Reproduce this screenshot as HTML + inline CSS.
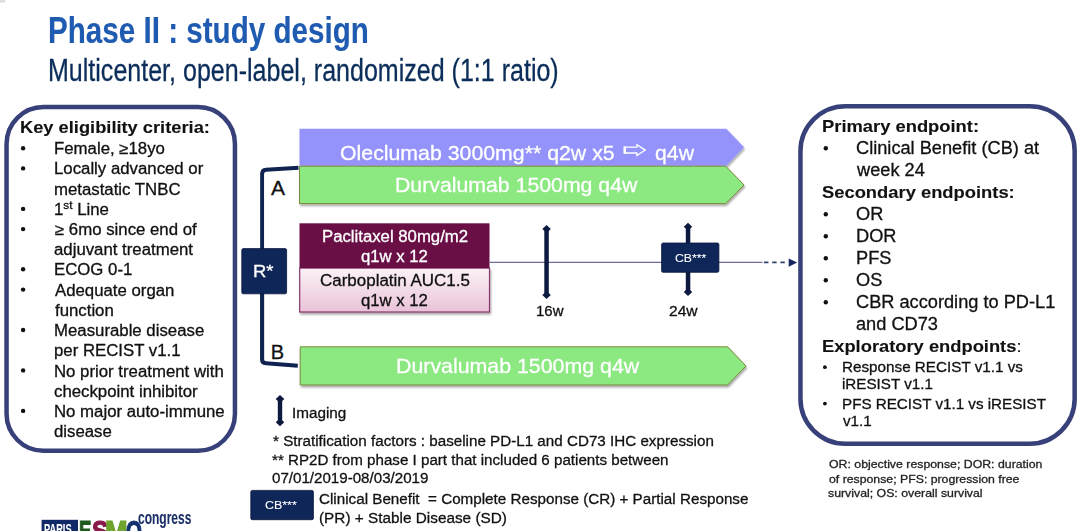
<!DOCTYPE html>
<html><head><meta charset="utf-8"><style>
html,body{margin:0;padding:0;background:#fff;}
body{width:1080px;height:531px;position:relative;overflow:hidden;font-family:"Liberation Sans", sans-serif;}
.t{position:absolute;white-space:pre;line-height:1;transform-origin:0 0;-webkit-text-stroke:0.3px currentColor;}
.b{-webkit-text-stroke:0.12px currentColor;}
sup{font-size:70%;vertical-align:0;position:relative;top:-0.5em;}
</style></head><body>
<svg width="1080" height="531" viewBox="0 0 1080 531" style="position:absolute;left:0;top:0">
<defs>
<linearGradient id="pink" x1="0" y1="0" x2="0" y2="1"><stop offset="0" stop-color="#fbf2f7"/><stop offset="1" stop-color="#e9c3d8"/></linearGradient>
<filter id="sh" x="-5%" y="-20%" width="110%" height="150%"><feGaussianBlur in="SourceAlpha" stdDeviation="1.2"/><feOffset dx="1" dy="2"/><feComponentTransfer><feFuncA type="linear" slope="0.35"/></feComponentTransfer><feMerge><feMergeNode/><feMergeNode in="SourceGraphic"/></feMerge></filter>
</defs>
<rect x="0" y="0" width="5.3" height="2.6" fill="#dedede"/>
<!-- boxes -->
<rect x="6.55" y="106.95" width="228.4" height="343.9" rx="37" ry="37" fill="none" stroke="#374079" stroke-width="4.5"/>
<rect x="800.45" y="106.25" width="274.2" height="337.6" rx="45" ry="45" fill="none" stroke="#374079" stroke-width="4.5"/>
<!-- purple arrow -->
<polygon points="299.5,128.7 726.3,128.7 744,147.2 726.3,165.8 299.5,165.8" fill="#9393fb" filter="url(#sh)"/>
<!-- green A -->
<polygon points="299.5,166.2 725.7,166.2 744,185 725.7,203.6 299.5,203.6" fill="#8ce880" stroke="#7a8a3a" stroke-width="1" filter="url(#sh)"/>
<!-- green B -->
<polygon points="300.2,346.8 727.6,346.8 746,366 727.6,385 300.2,385" fill="#8ce880" stroke="#7a8a3a" stroke-width="1" filter="url(#sh)"/>
<!-- arrow symbol in purple -->
<path d="M624.4,147.2 L636.9,147.2 L636.9,144.6 L645.3,150.1 L636.9,155.6 L636.9,153 L624.4,153 Z" fill="none" stroke="#fff" stroke-width="1.3"/>
<rect x="623.6" y="146.6" width="2.4" height="7" fill="#fff"/>
<!-- bracket -->
<path d="M298.5,167.8 L266,169.7 Q262.1,170 262.1,174 L262.1,249" fill="none" stroke="#0f2250" stroke-width="3.9"/>
<path d="M262.1,293 L262.1,359.5 Q262.1,363 266,363.3 L297.8,365.7" fill="none" stroke="#0f2250" stroke-width="4.1"/>
<!-- R box -->
<rect x="241.8" y="248.6" width="44.8" height="45.2" rx="1.5" fill="#0f2659" stroke="#0a173f" stroke-width="0.8"/>
<!-- timeline -->
<line x1="489.7" y1="262.3" x2="762.5" y2="262.3" stroke="#6d6d9c" stroke-width="1.3"/>
<line x1="764" y1="262.4" x2="785" y2="262.4" stroke="#33406f" stroke-width="1.6" stroke-dasharray="4.4 3.8"/>
<polygon points="788.7,258.5 797.2,262.6 788.7,266.7" fill="#18275f"/>
<!-- drug boxes -->
<rect x="299.7" y="268" width="189.8" height="44" fill="url(#pink)" stroke="#86386a" stroke-width="1.2" filter="url(#sh)"/>
<rect x="299.5" y="223.3" width="190" height="44.9" fill="#690f46"/>
<!-- 16w arrow -->
<g fill="#0d1a40">
<rect x="544.3" y="229" width="4.5" height="66"/>
<polygon points="546.55,225 550.8,229 546.55,233 542.3,229"/>
<polygon points="546.55,299 550.8,295 546.55,291 542.3,295"/>
<!-- 24w arrows -->
<rect x="685.8" y="226.5" width="4.5" height="17"/>
<polygon points="688,222.8 692.2,226.8 688,230.8 683.8,226.8"/>
<rect x="685.8" y="272" width="4.5" height="20"/>
<polygon points="688,296 692.2,292 688,288 683.8,292"/>
<!-- imaging arrow -->
<rect x="277.8" y="399" width="4.4" height="23"/>
<polygon points="280,395 284.3,399 280,403 275.7,399"/>
<polygon points="280,426.2 284.3,422.2 280,418.2 275.7,422.2"/>
</g>
<!-- CB box -->
<rect x="661.6" y="243" width="57.3" height="29.3" rx="1.5" fill="#0f2659" stroke="#0a173f" stroke-width="0.8"/>
<rect x="250.8" y="490.4" width="62.6" height="29.3" rx="1.5" fill="#0f2659" stroke="#0a173f" stroke-width="0.8"/>
<!-- bullets -->
<g fill="#111">
<circle cx="23.1" cy="148.2" r="2.2"/>
<circle cx="23.1" cy="168.4" r="2.2"/>
<circle cx="23.1" cy="208.9" r="2.2"/>
<circle cx="23.1" cy="229.1" r="2.2"/>
<circle cx="23.1" cy="269.3" r="2.2"/>
<circle cx="23.1" cy="289.6" r="2.2"/>
<circle cx="23.1" cy="330.0" r="2.2"/>
<circle cx="23.1" cy="370.4" r="2.2"/>
<circle cx="23.1" cy="410.9" r="2.2"/>
<circle cx="825.8" cy="148.2" r="2.2"/>
<circle cx="825.8" cy="214.2" r="2.2"/>
<circle cx="825.8" cy="236.2" r="2.2"/>
<circle cx="825.8" cy="258.2" r="2.2"/>
<circle cx="825.8" cy="280.2" r="2.2"/>
<circle cx="825.8" cy="302.2" r="2.2"/>
<circle cx="824.9" cy="367.2" r="1.9"/>
<circle cx="824.9" cy="403.6" r="1.9"/>
</g>
<!-- logo -->
<rect x="41.6" y="519.8" width="36.4" height="12" fill="#0f2a66"/>
</svg>

<div class='t b' style='left:47.62px;top:11.70px;font-size:35.3px;font-weight:bold;color:#1f5bb0;transform:scale(0.8391,1.0300);'>Phase II : study design</div>
<div class='t' style='left:48.08px;top:55.00px;font-size:31px;font-weight:normal;color:#0b2d5a;transform:scale(0.8076,1.0000);'>Multicenter, open-label, randomized (1:1 ratio)</div>
<div class='t b' style='left:20.13px;top:119.00px;font-size:17px;font-weight:bold;color:#111;transform:scale(1.0747,1.0000);'>Key eligibility criteria:</div>
<div class='t' style='left:53.95px;top:141.00px;font-size:16px;font-weight:normal;color:#111;transform:scale(1.0490,1.0000);'>Female, ≥18yo</div>
<div class='t' style='left:53.95px;top:161.00px;font-size:16px;font-weight:normal;color:#111;transform:scale(1.0490,1.0000);'>Locally advanced or</div>
<div class='t' style='left:53.95px;top:182.00px;font-size:16px;font-weight:normal;color:#111;transform:scale(1.0490,1.0000);'>metastatic TNBC</div>
<div class='t' style='left:53.95px;top:202.00px;font-size:16px;font-weight:normal;color:#111;transform:scale(1.0490,1.0000);'>1<sup>st</sup> Line</div>
<div class='t' style='left:55.00px;top:222.00px;font-size:16px;font-weight:normal;color:#111;transform:scale(1.0490,1.0000);'>≥ 6mo since end of</div>
<div class='t' style='left:53.95px;top:242.00px;font-size:16px;font-weight:normal;color:#111;transform:scale(1.0490,1.0000);'>adjuvant treatment</div>
<div class='t' style='left:53.95px;top:262.00px;font-size:16px;font-weight:normal;color:#111;transform:scale(1.0490,1.0000);'>ECOG 0-1</div>
<div class='t' style='left:55.00px;top:283.00px;font-size:16px;font-weight:normal;color:#111;transform:scale(1.0490,1.0000);'>Adequate organ</div>
<div class='t' style='left:55.00px;top:303.00px;font-size:16px;font-weight:normal;color:#111;transform:scale(1.0490,1.0000);'>function</div>
<div class='t' style='left:53.95px;top:323.00px;font-size:16px;font-weight:normal;color:#111;transform:scale(1.0490,1.0000);'>Measurable disease</div>
<div class='t' style='left:53.95px;top:343.00px;font-size:16px;font-weight:normal;color:#111;transform:scale(1.0490,1.0000);'>per RECIST v1.1</div>
<div class='t' style='left:53.95px;top:364.00px;font-size:16px;font-weight:normal;color:#111;transform:scale(1.0490,1.0000);'>No prior treatment with</div>
<div class='t' style='left:53.95px;top:384.00px;font-size:16px;font-weight:normal;color:#111;transform:scale(1.0490,1.0000);'>checkpoint inhibitor</div>
<div class='t' style='left:53.95px;top:404.00px;font-size:16px;font-weight:normal;color:#111;transform:scale(1.0490,1.0000);'>No major auto-immune</div>
<div class='t' style='left:53.95px;top:424.00px;font-size:16px;font-weight:normal;color:#111;transform:scale(1.0490,1.0000);'>disease</div>
<div class='t b' style='left:821.62px;top:118.00px;font-size:17px;font-weight:bold;color:#111;transform:scale(1.0797,1.0000);'>Primary endpoint:</div>
<div class='t' style='left:855.96px;top:140.00px;font-size:17.5px;font-weight:normal;color:#111;transform:scale(1.0400,1.0000);'>Clinical Benefit (CB) at</div>
<div class='t' style='left:857.00px;top:162.00px;font-size:17.5px;font-weight:normal;color:#111;transform:scale(1.0400,1.0000);'>week 24</div>
<div class='t b' style='left:821.62px;top:184.00px;font-size:17px;font-weight:bold;color:#111;transform:scale(1.0795,1.0000);'>Secondary endpoints:</div>
<div class='t' style='left:855.96px;top:206.00px;font-size:17.5px;font-weight:normal;color:#111;transform:scale(1.0400,1.0000);'>OR</div>
<div class='t' style='left:855.96px;top:228.00px;font-size:17.5px;font-weight:normal;color:#111;transform:scale(1.0400,1.0000);'>DOR</div>
<div class='t' style='left:855.96px;top:250.00px;font-size:17.5px;font-weight:normal;color:#111;transform:scale(1.0400,1.0000);'>PFS</div>
<div class='t' style='left:855.96px;top:272.00px;font-size:17.5px;font-weight:normal;color:#111;transform:scale(1.0400,1.0000);'>OS</div>
<div class='t' style='left:855.96px;top:294.00px;font-size:17.5px;font-weight:normal;color:#111;transform:scale(1.0400,1.0000);'>CBR according to PD-L1</div>
<div class='t' style='left:855.96px;top:316.00px;font-size:17.5px;font-weight:normal;color:#111;transform:scale(1.0400,1.0000);'>and CD73</div>
<div class='t b' style='left:821.62px;top:338.00px;font-size:17px;font-weight:bold;color:#111;transform:scale(1.0776,1.0000);'>Exploratory endpoints<span style="font-weight:normal">:</span></div>
<div class='t' style='left:841.96px;top:360.00px;font-size:14.7px;font-weight:normal;color:#111;transform:scale(1.0376,1.0000);'>Response RECIST v1.1 vs</div>
<div class='t' style='left:841.97px;top:377.00px;font-size:14.7px;font-weight:normal;color:#111;transform:scale(1.0340,1.0000);'>iRESIST v1.1</div>
<div class='t' style='left:841.97px;top:397.00px;font-size:14.7px;font-weight:normal;color:#111;transform:scale(1.0342,1.0000);'>PFS RECIST v1.1 vs iRESIST</div>
<div class='t' style='left:843.00px;top:414.00px;font-size:14.7px;font-weight:normal;color:#111;transform:scale(1.0340,1.0000);'>v1.1</div>
<div class='t' style='left:829.30px;top:458.00px;font-size:11.6px;font-weight:normal;color:#222;transform:scale(1.0615,1.0000);'>OR: objective response; DOR: duration</div>
<div class='t' style='left:829.30px;top:473.00px;font-size:11.6px;font-weight:normal;color:#222;transform:scale(1.0592,1.0000);'>of response; PFS: progression free</div>
<div class='t' style='left:828.24px;top:487.00px;font-size:11.6px;font-weight:normal;color:#222;transform:scale(1.0618,1.0000);'>survival; OS: overall survival</div>
<div class='t' style='left:339.67px;top:143.00px;font-size:20.7px;font-weight:normal;color:#fff;transform:scale(1.0294,1.0000);'>Oleclumab 3000mg** q2w x5</div>
<div class='t' style='left:654.97px;top:143.00px;font-size:20.7px;font-weight:normal;color:#fff;transform:scale(1.0270,1.0000);'>q4w</div>
<div class='t' style='left:394.94px;top:175.00px;font-size:20.7px;font-weight:normal;color:#fff;transform:scale(1.0282,1.0000);'>Durvalumab 1500mg q4w</div>
<div class='t' style='left:396.24px;top:356.00px;font-size:20.7px;font-weight:normal;color:#fff;transform:scale(1.0316,1.0000);'>Durvalumab 1500mg q4w</div>
<div class='t' style='left:321.55px;top:229.00px;font-size:16px;font-weight:normal;color:#fff;transform:scale(1.0464,1.0000);'>Paclitaxel 80mg/m2</div>
<div class='t' style='left:360.56px;top:249.00px;font-size:16px;font-weight:normal;color:#fff;transform:scale(1.0444,1.0000);'>q1w x 12</div>
<div class='t' style='left:319.54px;top:273.00px;font-size:16px;font-weight:normal;color:#111;transform:scale(1.0600,1.0000);'>Carboplatin AUC1.5</div>
<div class='t' style='left:360.56px;top:293.00px;font-size:16px;font-weight:normal;color:#111;transform:scale(1.0444,1.0000);'>q1w x 12</div>
<div class='t' style='left:271.00px;top:177.00px;font-size:21px;font-weight:normal;color:#111;transform:scale(1.0000,1.0000);'>A</div>
<div class='t' style='left:270.80px;top:342.00px;font-size:20px;font-weight:normal;color:#111;transform:scale(1.0000,1.0000);'>B</div>
<div class='t' style='left:253.00px;top:264.00px;font-size:16.8px;font-weight:normal;color:#fff;transform:scale(1.1000,1.0000);'>R*</div>
<div class='t' style='left:535.59px;top:304.00px;font-size:14.8px;font-weight:normal;color:#111;transform:scale(1.0115,1.0000);'>16w</div>
<div class='t' style='left:669.25px;top:304.00px;font-size:14.8px;font-weight:normal;color:#111;transform:scale(1.0538,1.0000);'>24w</div>
<div class='t' style='left:674.72px;top:253.00px;font-size:11.3px;font-weight:normal;color:#fff;transform:scale(1.0821,1.0000);-webkit-text-stroke:0.1px #fff;'>CB***</div>
<div class='t' style='left:265.40px;top:500.00px;font-size:11.3px;font-weight:normal;color:#fff;transform:scale(1.1000,1.0000);-webkit-text-stroke:0.1px #fff;'>CB***</div>
<div class='t' style='left:292.30px;top:405.00px;font-size:15.3px;font-weight:normal;color:#111;transform:scale(0.9981,1.0000);'>Imaging</div>
<div class='t' style='left:272.82px;top:433.00px;font-size:15.5px;font-weight:normal;color:#111;transform:scale(0.9804,1.0000);'>* Stratification factors : baseline PD-L1 and CD73 IHC expression</div>
<div class='t' style='left:272.32px;top:452.00px;font-size:15.5px;font-weight:normal;color:#111;transform:scale(0.9770,1.0000);'>** RP2D from phase I part that included 6 patients between</div>
<div class='t' style='left:271.72px;top:470.00px;font-size:15.5px;font-weight:normal;color:#111;transform:scale(0.9755,1.0000);'>07/01/2019-08/03/2019</div>
<div class='t' style='left:319.22px;top:491.00px;font-size:15.5px;font-weight:normal;color:#111;transform:scale(0.9812,1.0000);'>Clinical Benefit  = Complete Response (CR) + Partial Response</div>
<div class='t' style='left:319.21px;top:510.00px;font-size:15.5px;font-weight:normal;color:#111;transform:scale(0.9894,1.0000);'>(PR) + Stable Disease (SD)</div>
<div class='t b' style='left:138.15px;top:509.00px;font-size:18.5px;font-weight:bold;color:#1c3068;transform:scale(0.6494,1.0000);'>congress</div>
<div class='t b' style='left:44.24px;top:522.00px;font-size:14px;font-weight:bold;color:#fff;transform:scale(0.6600,1.0000);'>PARIS</div>
<div class='t b' style='left:79.28px;top:516.00px;font-size:30px;font-weight:900;color:#1e5a1e;transform:scale(0.6158,1.0000);-webkit-text-stroke:1.2px #1e5a1e;'>E</div>
<div class='t b' style='left:91.80px;top:516.00px;font-size:30px;font-weight:900;color:#8a1a4c;transform:scale(0.8105,1.0000);-webkit-text-stroke:1.2px #8a1a4c;'>S</div>
<div class='t b' style='left:105.39px;top:516.00px;font-size:30px;font-weight:900;color:#6ea42c;transform:scale(0.9048,1.0000);-webkit-text-stroke:1.2px #6ea42c;'>M</div>
<div class='t b' style='left:125.52px;top:516.00px;font-size:30px;font-weight:900;color:#12306e;transform:scale(0.6818,1.0000);-webkit-text-stroke:1.2px #12306e;'>O</div>
</body></html>
